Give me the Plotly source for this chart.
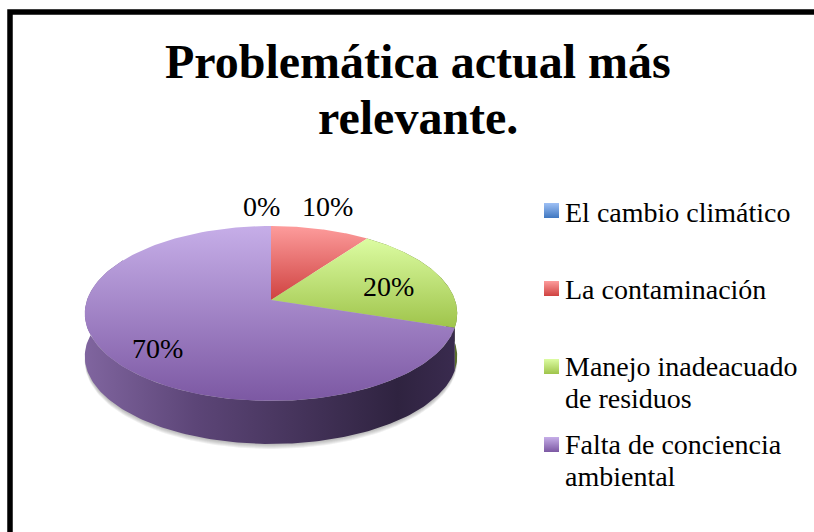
import numpy as np
import plotly.graph_objects as go

CATEGORIES = ["El cambio climático", "La contaminación", "Manejo inadeacuado<br>de residuos",
              "Falta de conciencia<br>ambiental"]
VALUES = [0, 10, 20, 70]
TITLE_LINES = ["Problemática actual más", "relevante."]

# light -> dark face colours of each slice, as in the legend swatches
TOP_COLORS = [("#9ec0f5", "#3f77c0"), ("#fd9c9c", "#cf4240"), ("#dcfca2", "#9fc44b"), ("#c6aee8", "#7c58a3")]
WALL_SCALES = [
    None,
    None,
    [[0, "#5a6e2c"], [1, "#5a6e2c"]],
    [[0, "#80659f"], [0.3, "#5c4577"], [0.84, "#2f2340"], [1, "#3a2b4f"]],
]

# perspective of the tilted disc, in page pixels
CX, CY = 271, 300
RX, RY, PERSP = 184, 85.4, 0.154
DEPTH = 43

LABEL_POS = [(261, 206), (327, 206), (388, 286), (157, 348)]
LEGEND_X, LEGEND_TEXT_X = 544, 563
LEGEND_Y = [203, 281, 359, 437]
LEGEND_TEXT_Y = [212, 289, 366, 444]
LEGEND_LINE_GAP = 32
SWATCH = 15

SERIF = "Liberation Serif"


def rim(theta, drop=0):
    """Project angles (degrees clockwise from 12 o'clock) on to the page"""
    t = np.radians(theta)
    sx, sy = np.sin(t), np.cos(t)
    w = 1 + PERSP * sy
    return CX + RX * sx / w, CY - RY * sy / w + drop


def slice_trace(start, end, colors):
    theta = np.linspace(start, end, 120)
    x, y = rim(theta)
    xs = np.r_[CX, x, CX]
    ys = np.r_[CY, y, CY]
    return go.Scatter(
        x=xs,
        y=ys,
        mode="lines",
        line=dict(width=0),
        fill="toself",
        fillgradient=dict(
            type="vertical",
            colorscale=[[0, colors[0]], [1, colors[1]]],
            start=float(ys.min()),
            stop=float(ys.max()),
        ),
        hoverinfo="skip",
        showlegend=False,
    )


def wall_trace(start, end, scale):
    theta = np.linspace(start, end, 160)
    x0, y0 = rim(theta)
    x1, y1 = rim(theta, DEPTH)
    all_x, _ = rim(np.linspace(0, 360, 361))
    return go.Scatter(
        x=np.r_[x0, x1[::-1]],
        y=np.r_[y0, y1[::-1]],
        mode="lines",
        line=dict(width=0),
        fill="toself",
        fillgradient=dict(type="horizontal", colorscale=scale, start=float(all_x.min()), stop=float(all_x.max())),
        hoverinfo="skip",
        showlegend=False,
    )


fig = go.Figure()

# soft shadow under the disc
theta_all = np.linspace(0, 360, 240)
for grow in [5, 4, 3, 2, 1]:
    sx, sy = rim(theta_all, DEPTH + grow)
    fig.add_trace(go.Scatter(x=sx, y=sy, mode="lines", line=dict(width=0), fill="toself",
                             fillcolor="rgba(90,90,90,0.09)", hoverinfo="skip", showlegend=False))

edges = np.cumsum([0] + VALUES) / sum(VALUES) * 360

# side walls go first, the part facing away ends up under the top faces
for i, scale in enumerate(WALL_SCALES):
    if scale is None or VALUES[i] == 0:
        continue
    fig.add_trace(wall_trace(edges[i], min(edges[i + 1], 300), scale))

for i, colors in enumerate(TOP_COLORS):
    if VALUES[i] == 0:
        continue
    fig.add_trace(slice_trace(edges[i], edges[i + 1], colors))

# legend swatches
for y, colors in zip(LEGEND_Y, TOP_COLORS):
    fig.add_trace(go.Scatter(
        x=[LEGEND_X, LEGEND_X + SWATCH, LEGEND_X + SWATCH, LEGEND_X, LEGEND_X],
        y=[y, y, y + SWATCH, y + SWATCH, y],
        mode="lines",
        line=dict(width=0),
        fill="toself",
        fillgradient=dict(type="vertical", colorscale=[[0, colors[0]], [1, colors[1]]], start=y, stop=y + SWATCH),
        hoverinfo="skip",
        showlegend=False,
    ))

# frame runs off the bottom of the page
fig.add_shape(type="rect", x0=10, y0=12, x1=830, y1=560, line=dict(color="#000000", width=5.5), layer="above")

annotations = []
for line, y in zip(TITLE_LINES, [61, 117]):
    annotations.append(dict(x=418, y=y, text=f"<b>{line}</b>", showarrow=False,
                            font=dict(family=SERIF, size=48, color="#000000")))
for value, (x, y) in zip(VALUES, LABEL_POS):
    annotations.append(dict(x=x, y=y, text=f"{value}%", showarrow=False,
                            font=dict(family=SERIF, size=28, color="#000000")))
for name, y in zip(CATEGORIES, LEGEND_TEXT_Y):
    for n, part in enumerate(name.split("<br>")):
        annotations.append(dict(x=LEGEND_TEXT_X, y=y + n * LEGEND_LINE_GAP, text=part, showarrow=False,
                                xanchor="left", font=dict(family=SERIF, size=28, color="#000000")))
for a in annotations:
    a.update(xref="x", yref="y")

fig.update_layout(
    width=814,
    height=532,
    margin=dict(l=0, r=0, t=0, b=0),
    paper_bgcolor="#ffffff",
    plot_bgcolor="#ffffff",
    showlegend=False,
    xaxis=dict(range=[0, 814], visible=False, fixedrange=True),
    yaxis=dict(range=[532, 0], visible=False, fixedrange=True),
    annotations=annotations,
)

fig.write_html("out.html", config=dict(displayModeBar=False), post_script="document.body.style.margin='0'")
